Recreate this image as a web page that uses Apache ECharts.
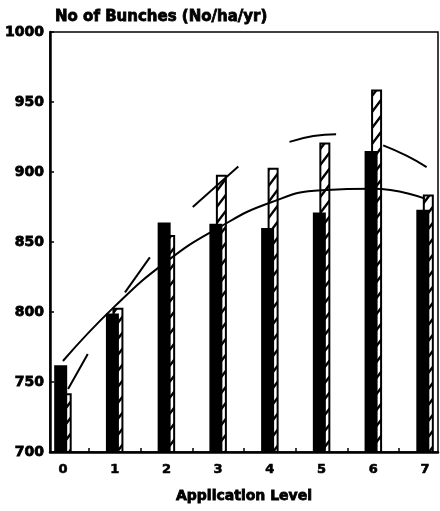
<!DOCTYPE html>
<html>
<head>
<meta charset="utf-8">
<script src="https://cdn.jsdelivr.net/npm/echarts@6/dist/echarts.min.js"></script>
<style>html,body{margin:0;padding:0;background:#fff;}#chart{width:440px;height:511px;}</style>
</head>
<body>
<div id="chart"></div>
<script>
// ---- data ----
var levels = [0, 1, 2, 3, 4, 5, 6, 7];
var solidBars = [762, 799, 864, 863, 860, 871, 915, 873];
var hatchedBars = [742, 803, 855, 898, 903, 921, 959, 884];
var fitCurve = [765, 804, 836, 860, 878, 887, 888, 881];
var segment0 = [[0.10, 745], [0.48, 770]];
var segment1 = [[1.20, 814], [1.68, 839]];
var segment3 = [[2.51, 875], [3.39, 904]];
var segment5 = [[4.38, 921.5], [4.84, 925.7], [5.28, 927]];
var segment6 = [[6.19, 919], [6.65, 911.5], [7.03, 903.5]];
var yTicks = [700, 750, 800, 850, 900, 950, 1000];
var xTickMarks = [0.5, 1.5, 2.5, 3.5, 4.5, 5.5, 6.5];

function pairs(xs, ys) { return xs.map(function (x, i) { return [x, ys[i]]; }); }

// hatch pattern
var pc = document.createElement('canvas');
pc.width = 12; pc.height = 16;
var g = pc.getContext('2d');
g.fillStyle = '#fff'; g.fillRect(0, 0, 12, 16);
g.strokeStyle = '#000'; g.lineWidth = 2.4;
g.beginPath();
g.moveTo(-2, 16 + 8 / 3); g.lineTo(14, -8 / 3);
g.moveTo(-2, 32 + 8 / 3); g.lineTo(14, 16 - 8 / 3);
g.moveTo(-2, 8 / 3); g.lineTo(14, -16 - 8 / 3);
g.stroke();

var font = '"DejaVu Sans", sans-serif';
var chart = echarts.init(document.getElementById('chart'), null, { renderer: 'canvas' });
var segStyle = { color: '#000', width: 2 };
function seg(d) {
  return { type: 'line', data: d, smooth: true, showSymbol: false, symbol: 'none',
    lineStyle: segStyle, z: 5, silent: true, animation: false };
}
chart.setOption({
  animation: false,
  backgroundColor: '#fff',
  title: {
    text: 'No of Bunches (No/ha/yr)', left: 50, top: 5,
    textStyle: { fontFamily: font, fontSize: 15, fontWeight: 'bold', color: '#000',
      textBorderColor: '#000', textBorderWidth: 0.8 }
  },
  grid: { left: 50, right: 2, top: 32, bottom: 59, show: true, borderColor: '#000', borderWidth: 1.5, backgroundColor: 'transparent' },
  xAxis: {
    type: 'value', min: -0.25, max: 7.25,
    name: 'Application Level', nameLocation: 'middle', nameGap: 37,
    nameTextStyle: { fontFamily: font, fontSize: 14, fontWeight: 'bold', color: '#000',
      textBorderColor: '#000', textBorderWidth: 0.8 },
    axisLine: { show: true, onZero: false, lineStyle: { color: '#000', width: 2.5 } },
    axisTick: { show: true, inside: true, length: 4, customValues: xTickMarks, lineStyle: { color: '#000', width: 1.5 } },
    axisLabel: { customValues: levels, margin: 11, fontFamily: font, fontSize: 13, fontWeight: 'bold', color: '#000',
      textBorderColor: '#000', textBorderWidth: 0.6, formatter: function (v) { return String(v); } },
    splitLine: { show: false }
  },
  yAxis: {
    type: 'value', min: 700, max: 1000, interval: 50,
    axisLine: { show: true, onZero: false, lineStyle: { color: '#000', width: 2.5 } },
    axisTick: { show: true, inside: true, length: 4, lineStyle: { color: '#000', width: 1.5 } },
    axisLabel: { margin: 6, fontFamily: font, fontSize: 14, fontWeight: 'bold', color: '#000',
      textBorderColor: '#000', textBorderWidth: 0.8,
      customValues: yTicks, formatter: function (v) { return String(v); } },
    splitLine: { show: false }
  },
  series: [
    { type: 'bar', name: 'solid', data: pairs(levels, solidBars), barWidth: 13, barGap: '-50%',
      itemStyle: { color: '#000' }, z: 3, silent: true },
    { type: 'bar', name: 'hatched', data: pairs(levels, hatchedBars), barWidth: 11, barGap: '-50%',
      itemStyle: { color: { image: pc, repeat: 'repeat' }, borderColor: '#000', borderWidth: 2 }, z: 2, silent: true },
    { type: 'line', data: pairs(levels, fitCurve), smooth: true, showSymbol: false, symbol: 'none',
      lineStyle: { color: '#000', width: 2 }, z: 5, silent: true },
    seg(segment0), seg(segment1), seg(segment3), seg(segment5), seg(segment6)
  ]
});
</script>
</body>
</html>
